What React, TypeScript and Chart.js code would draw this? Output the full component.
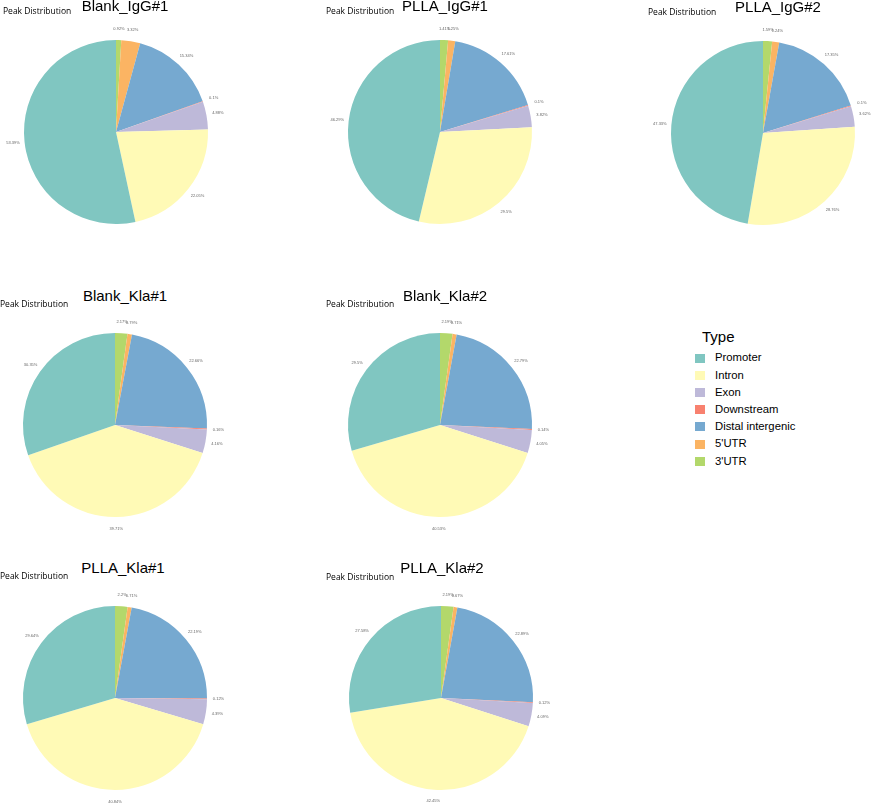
import React, { useEffect, useRef } from "react";
import { Chart, registerables } from "chart.js";

Chart.register(...registerables);

// Slice order, clockwise from 12 o'clock
const categories = ["3'UTR", "5'UTR", "Distal intergenic", "Downstream", "Exon", "Intron", "Promoter"];
const legendOrder = ["Promoter", "Intron", "Exon", "Downstream", "Distal intergenic", "5'UTR", "3'UTR"];
const categoryColors: Record<string, string> = {
  Promoter: "#80C6C1",
  Intron: "#FFFAB6",
  Exon: "#BEB9D9",
  Downstream: "#F8816F",
  "Distal intergenic": "#76A9D0",
  "5'UTR": "#FBB463",
  "3'UTR": "#B3D86B",
};

// Percentages per sample (3'UTR, 5'UTR, Distal intergenic, Downstream, Exon, Intron, Promoter)
const blankIgG1 = [0.92, 3.32, 15.34, 0.1, 4.88, 22.05, 53.39];
const pllaIgG1 = [1.41, 1.25, 17.61, 0.1, 3.82, 29.5, 46.29];
const pllaIgG2 = [1.59, 1.24, 17.35, 0.1, 3.62, 28.76, 47.33];
const blankKla1 = [2.17, 0.79, 22.66, 0.16, 4.16, 39.71, 30.35];
const blankKla2 = [2.19, 0.71, 22.79, 0.14, 4.05, 40.53, 29.5];
const pllaKla1 = [2.2, 0.71, 22.19, 0.12, 4.39, 40.84, 29.64];
const pllaKla2 = [2.19, 0.67, 22.89, 0.12, 4.09, 42.45, 27.58];

const sampleNames = ["Blank_IgG#1", "PLLA_IgG#1", "PLLA_IgG#2", "Blank_Kla#1", "Blank_Kla#2", "PLLA_Kla#1", "PLLA_Kla#2"];
const sampleValues = [blankIgG1, pllaIgG1, pllaIgG2, blankKla1, blankKla2, pllaKla1, pllaKla2];
const subtitle = "Peak Distribution";

// layout of each panel: pie centre, title centre/baseline, subtitle left/baseline
const panels = [
  { cx: 116, cy: 132, tx: 125, ty: 11, sx: 3, sy: 14 },
  { cx: 440, cy: 132, tx: 445, ty: 11, sx: 326, sy: 14 },
  { cx: 763, cy: 133, tx: 778, ty: 12, sx: 648, sy: 15 },
  { cx: 115, cy: 425, tx: 125, ty: 301, sx: 0, sy: 307 },
  { cx: 440, cy: 425, tx: 445, ty: 301, sx: 326, sy: 307 },
  { cx: 115, cy: 698, tx: 123, ty: 573, sx: 0, sy: 579 },
  { cx: 441, cy: 698, tx: 442, ty: 573, sx: 326, sy: 580 },
];

const R = 92;
const W = 270;
const H = 240;

const fmt = (v: number) => `${+v.toFixed(2)}%`;

const labelPlugin = {
  id: "sliceLabels",
  afterDatasetsDraw(chart: any) {
    const ctx = chart.ctx;
    const meta = chart.getDatasetMeta(0);
    const data = chart.data.datasets[0].data as number[];
    ctx.save();
    ctx.font = '4px "Liberation Sans", Arial, sans-serif';
    ctx.fillStyle = "#666";
    ctx.textAlign = "center";
    ctx.textBaseline = "middle";
    meta.data.forEach((arc: any, i: number) => {
      const p = arc.getProps(["startAngle", "endAngle", "outerRadius", "x", "y"], true);
      const a = (p.startAngle + p.endAngle) / 2;
      const r = p.outerRadius * 1.125;
      ctx.fillText(fmt(data[i]), p.x + Math.cos(a) * r, p.y + Math.sin(a) * r);
    });
    ctx.restore();
  },
};

function Pie({ values, cx, cy }: { values: number[]; cx: number; cy: number }) {
  const ref = useRef<HTMLCanvasElement>(null);
  useEffect(() => {
    const chart = new Chart(ref.current as HTMLCanvasElement, {
      type: "pie",
      data: {
        labels: categories,
        datasets: [
          {
            data: values,
            backgroundColor: categories.map((c) => categoryColors[c]),
            borderWidth: 0,
            radius: R,
          } as any,
        ],
      },
      options: {
        responsive: false,
        animation: false,
        radius: R,
        layout: { padding: 0 },
        plugins: { legend: { display: false }, tooltip: { enabled: false }, title: { display: false } },
      } as any,
      plugins: [labelPlugin],
    });
    return () => chart.destroy();
  }, [values]);
  return (
    <canvas
      ref={ref}
      width={W}
      height={H}
      style={{ position: "absolute", left: cx - W / 2, top: cy - H / 2, width: W, height: H }}
    />
  );
}

const sans = '"Liberation Sans", Arial, sans-serif';

function Text({
  x,
  baseline,
  size,
  children,
  center,
  font,
}: {
  x: number;
  baseline: number;
  size: number;
  children: React.ReactNode;
  center?: boolean;
  font?: string;
}) {
  return (
    <div
      style={{
        position: "absolute",
        left: x,
        top: baseline - size * 0.85,
        fontSize: size,
        lineHeight: `${size}px`,
        fontFamily: font || sans,
        whiteSpace: "nowrap",
        color: "#000",
        transform: center ? "translateX(-50%)" : undefined,
      }}
    >
      {children}
    </div>
  );
}

export default function App() {
  return (
    <div style={{ position: "absolute", left: 0, top: 0, width: 871, height: 803, background: "#fff", overflow: "hidden" }}>
      {panels.map((p, i) => (
        <React.Fragment key={sampleNames[i]}>
          <Pie values={sampleValues[i]} cx={p.cx} cy={p.cy} />
          <Text x={p.tx} baseline={p.ty} size={15} center>
            {sampleNames[i]}
          </Text>
          <Text x={p.sx} baseline={p.sy} size={8.5} font='"Open Sans", sans-serif'>
            {subtitle}
          </Text>
        </React.Fragment>
      ))}
      <Text x={702} baseline={342} size={15}>
        Type
      </Text>
      {legendOrder.map((c, i) => {
        const base = 362 + i * 17.2;
        return (
          <React.Fragment key={c}>
            <div
              style={{
                position: "absolute",
                left: 695,
                top: base - 8.5,
                width: 10,
                height: 9,
                background: categoryColors[c],
              }}
            />
            <Text x={715} baseline={base} size={11.3}>
              {c}
            </Text>
          </React.Fragment>
        );
      })}
    </div>
  );
}
